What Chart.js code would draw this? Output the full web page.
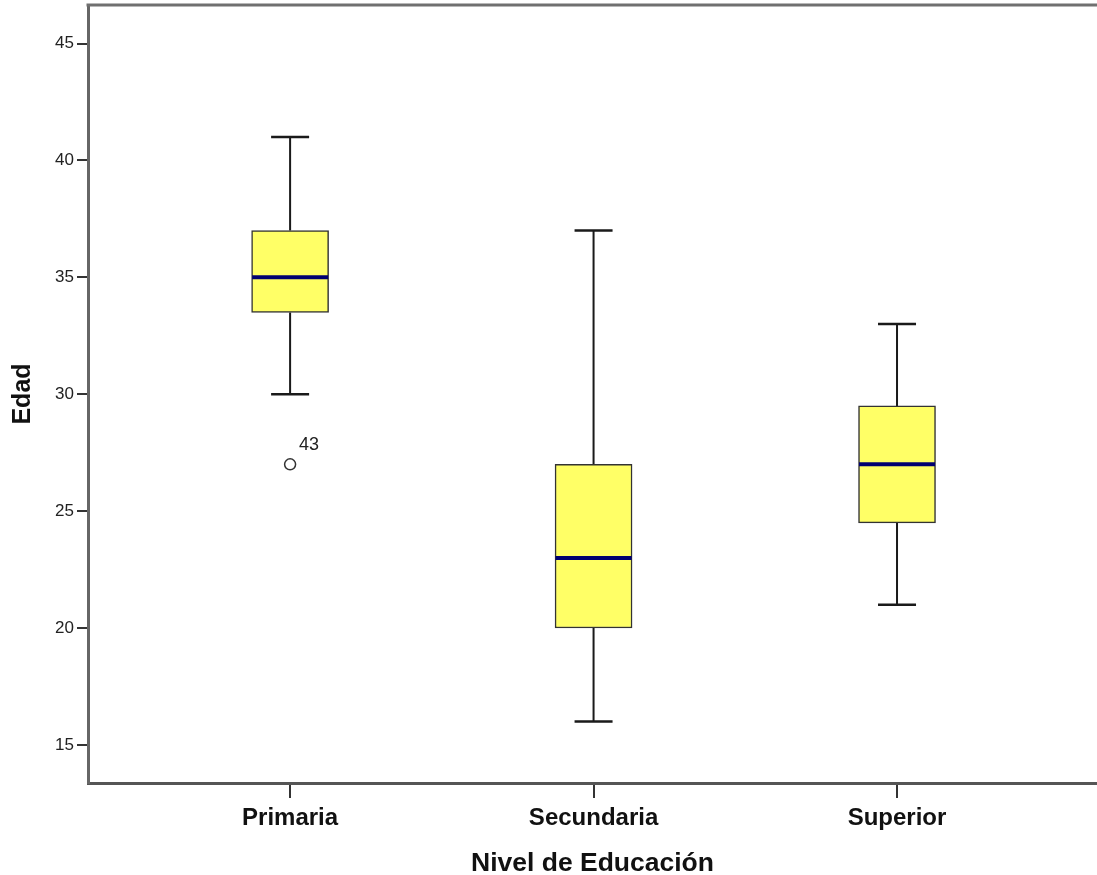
<!DOCTYPE html>
<html>
<head>
<meta charset="utf-8">
<script src="https://cdn.jsdelivr.net/npm/chart.js@4.4.1/dist/chart.umd.min.js"></script>
<style>
  html, body { margin: 0; padding: 0; background: #fff; overflow: hidden; }
  #wrap { width: 1097px; height: 875px; position: relative; }
</style>
</head>
<body>
<div id="wrap"><canvas id="myChart"></canvas></div>
<script>
// box plot values (Edad by Nivel de Educación)
const categories = ['Primaria', 'Secundaria', 'Superior'];
const whiskerLow = [30, 16, 21];
const q1 = [33.5, 20, 24.5];
const medians = [35, 23, 27];
const q3 = [37, 27, 29.5];
const whiskerHigh = [41, 37, 33];

// outliers: category index, value, case label
const outlierCat = [0];
const outlierValues = [27];
const outlierLabels = ['43'];

const yTicks = [15, 20, 25, 30, 35, 40, 45];
const yMin = 13.37;
const yMax = 46.65;
const xMin = 0.334;
const xMax = 3.659;

const fontFamily = "'Liberation Sans', Arial, sans-serif";

const boxData = categories.map((c, i) => ({ x: i + 1, y: [q1[i], q3[i]] }));
const outlierData = outlierValues.map((v, i) => ({ x: outlierCat[i] + 1, y: v }));

const whiskerPlugin = {
  id: 'whiskers',
  beforeDatasetsDraw(chart) {
    const ctx = chart.ctx;
    const xs = chart.scales.x, ys = chart.scales.y;
    ctx.save();
    ctx.strokeStyle = '#1a1a1a';
    for (let i = 0; i < categories.length; i++) {
      let cx = xs.getPixelForValue(i + 1);
      ctx.lineWidth = 2;
      ctx.beginPath();
      ctx.moveTo(cx, ys.getPixelForValue(whiskerLow[i]));
      ctx.lineTo(cx, ys.getPixelForValue(q1[i]));
      ctx.moveTo(cx, ys.getPixelForValue(q3[i]));
      ctx.lineTo(cx, ys.getPixelForValue(whiskerHigh[i]));
      ctx.stroke();
      ctx.lineWidth = 2.5;
      ctx.beginPath();
      ctx.moveTo(cx - 19, ys.getPixelForValue(whiskerLow[i]));
      ctx.lineTo(cx + 19, ys.getPixelForValue(whiskerLow[i]));
      ctx.moveTo(cx - 19, ys.getPixelForValue(whiskerHigh[i]));
      ctx.lineTo(cx + 19, ys.getPixelForValue(whiskerHigh[i]));
      ctx.stroke();
    }
    ctx.restore();
  },
  afterDatasetsDraw(chart) {
    const ctx = chart.ctx;
    const xs = chart.scales.x, ys = chart.scales.y;
    const meta = chart.getDatasetMeta(0);
    ctx.save();
    ctx.strokeStyle = '#000070';
    ctx.lineWidth = 4;
    for (let i = 0; i < categories.length; i++) {
      let bar = meta.data[i];
      let half = bar.width / 2 - 0.5;
      let y = ys.getPixelForValue(medians[i]);
      ctx.beginPath();
      ctx.moveTo(bar.x - half, y);
      ctx.lineTo(bar.x + half, y);
      ctx.stroke();
    }
    // outlier case labels
    ctx.fillStyle = '#222';
    ctx.font = '18px ' + fontFamily;
    ctx.textAlign = 'left';
    ctx.textBaseline = 'middle';
    for (let i = 0; i < outlierValues.length; i++) {
      let px = xs.getPixelForValue(outlierCat[i] + 1);
      let py = ys.getPixelForValue(outlierValues[i]);
      ctx.fillText(outlierLabels[i], px + 9, py - 19);
    }
    ctx.restore();
  },
  afterDraw(chart) {
    // top frame line
    const ctx = chart.ctx;
    const a = chart.chartArea;
    ctx.save();
    ctx.strokeStyle = '#707070';
    ctx.lineWidth = 3;
    ctx.beginPath();
    ctx.moveTo(a.left - 1.5, a.top);
    ctx.lineTo(a.right, a.top);
    ctx.stroke();
    ctx.restore();
  }
};

const ctx = document.getElementById('myChart').getContext('2d');
const myChart = new Chart(ctx, {
  type: 'bar',
  data: {
    datasets: [
      {
        type: 'bar',
        data: boxData,
        backgroundColor: '#ffff66',
        borderColor: '#333333',
        borderWidth: 1.5,
        borderSkipped: false,
        barThickness: 77
      },
      {
        type: 'scatter',
        data: outlierData,
        pointRadius: 5.5,
        pointBorderWidth: 1.5,
        pointBorderColor: '#333333',
        pointBackgroundColor: '#ffffff'
      }
    ]
  },
  options: {
    responsive: true,
    maintainAspectRatio: false,
    animation: false,
    layout: { autoPadding: false, padding: { top: 5, left: 0, right: 0, bottom: 0 } },
    plugins: { legend: { display: false }, tooltip: { enabled: false } },
    scales: {
      x: {
        type: 'linear',
        offset: false,
        min: xMin,
        max: xMax,
        afterBuildTicks: (s) => { s.ticks = categories.map((c, i) => ({ value: i + 1 })); },
        afterFit: (s) => { s.height = 92; s.paddingLeft = 0; s.paddingRight = 0; },
        ticks: {
          callback: (v, i) => categories[i],
          font: { family: fontFamily, size: 24, weight: 'bold' },
          color: '#111',
          padding: 6,
          maxRotation: 0
        },
        grid: { offset: false, drawOnChartArea: false, drawTicks: true, tickLength: 15, tickColor: '#333', lineWidth: 2 },
        border: { color: '#555', width: 3 },
        title: {
          display: true,
          text: 'Nivel de Educación',
          font: { family: fontFamily, size: 26.5, weight: 'bold', lineHeight: 0.8 },
          color: '#111',
          padding: { top: 0, bottom: 1 }
        }
      },
      y: {
        min: yMin,
        max: yMax,
        afterBuildTicks: (s) => { s.ticks = yTicks.map(v => ({ value: v })); },
        afterFit: (s) => { s.width = 88; s.paddingTop = 0; s.paddingBottom = 0; },
        ticks: {
          font: { family: fontFamily, size: 17 },
          color: '#222',
          padding: 3
        },
        grid: { drawOnChartArea: false, drawTicks: true, tickLength: 11, tickColor: '#333', lineWidth: 2 },
        border: { color: '#666', width: 3 },
        title: {
          display: true,
          text: 'Edad',
          font: { family: fontFamily, size: 25, weight: 'bold' },
          color: '#111',
          padding: { top: 8, bottom: 0 }
        }
      }
    }
  },
  plugins: [whiskerPlugin]
});
</script>
</body>
</html>
